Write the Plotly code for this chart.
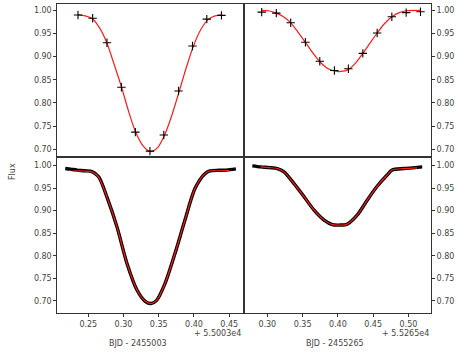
import plotly.graph_objects as go

# ---------------- data ----------------
# Top-left: long-cadence points (BJD - 2455003, offset 5.5003e4)
tl_x = [0.2354, 0.2562, 0.2765, 0.2970, 0.3168, 0.3375, 0.3572, 0.3781, 0.3979, 0.4182, 0.4390]
tl_y = [0.990, 0.983, 0.930, 0.834, 0.737, 0.696, 0.731, 0.826, 0.923, 0.981, 0.989]
tl_mx = [0.2354, 0.2456, 0.2558, 0.2660, 0.2760, 0.2865, 0.2970, 0.3070, 0.3170, 0.3275, 0.3380,
         0.3480, 0.3580, 0.3685, 0.3790, 0.3890, 0.3990, 0.4095, 0.4200, 0.4300, 0.4400]
tl_my = [0.990, 0.988, 0.982, 0.962, 0.931, 0.884, 0.835, 0.783, 0.738, 0.708, 0.695,
         0.703, 0.730, 0.773, 0.825, 0.876, 0.922, 0.958, 0.980, 0.988, 0.990]

# Top-right: long-cadence points (BJD - 2455265, offset 5.5265e4)
tr_x = [0.2921, 0.3128, 0.3332, 0.3540, 0.3744, 0.3951, 0.4149, 0.4354, 0.4557, 0.4765, 0.4968, 0.5171]
tr_y = [0.996, 0.994, 0.973, 0.931, 0.890, 0.870, 0.874, 0.907, 0.951, 0.986, 0.995, 0.997]
tr_mx = [0.2921, 0.3020, 0.3128, 0.3230, 0.3332, 0.3435, 0.3540, 0.3640, 0.3744, 0.3850, 0.3951,
         0.4040, 0.4149, 0.4250, 0.4354, 0.4455, 0.4557, 0.4660, 0.4765, 0.4870, 0.4968, 0.5171]
tr_my = [1.000, 0.999, 0.994, 0.986, 0.973, 0.953, 0.931, 0.909, 0.889, 0.875, 0.869,
         0.868, 0.872, 0.886, 0.907, 0.929, 0.951, 0.971, 0.986, 0.995, 0.999, 1.000]

# Bottom-left: short-cadence data (traced) and model
bl_x = [0.2173, 0.2250, 0.2340, 0.2450, 0.2552, 0.2647, 0.2765, 0.2907, 0.3049, 0.3191, 0.3308,
        0.3390, 0.3470, 0.3588, 0.3730, 0.3872, 0.4014, 0.4156, 0.4227, 0.4350, 0.4460, 0.4595]
bl_y = [0.9934, 0.9920, 0.9900, 0.9885, 0.9865, 0.9750, 0.9300, 0.8640, 0.7830, 0.7240, 0.6990,
        0.6940, 0.7010, 0.7380, 0.8050, 0.8790, 0.9490, 0.9820, 0.9880, 0.9895, 0.9900, 0.9927]
bl_mx = [0.2280, 0.2450, 0.2552, 0.2647, 0.2765, 0.2907, 0.3049, 0.3191, 0.3308, 0.3390,
         0.3470, 0.3588, 0.3730, 0.3872, 0.4014, 0.4156, 0.4227, 0.4350, 0.4500]
bl_my = [0.9880, 0.9880, 0.9860, 0.9740, 0.9300, 0.8640, 0.7830, 0.7240, 0.6990, 0.6940,
         0.7010, 0.7380, 0.8050, 0.8790, 0.9490, 0.9820, 0.9880, 0.9885, 0.9890]

# Bottom-right: short-cadence data (traced) and model
br_x = [0.2788, 0.2907, 0.3030, 0.3142, 0.3237, 0.3379, 0.3521, 0.3663, 0.3805, 0.3922,
        0.4017, 0.4131, 0.4273, 0.4415, 0.4557, 0.4698, 0.4769, 0.4935, 0.5060, 0.5195]
br_y = [0.9993, 0.9970, 0.9955, 0.9934, 0.9860, 0.9600, 0.9310, 0.9010, 0.8790, 0.8690,
        0.8680, 0.8700, 0.8900, 0.9230, 0.9540, 0.9790, 0.9900, 0.9934, 0.9950, 0.9970]
br_mx = [0.2907, 0.3030, 0.3142, 0.3237, 0.3379, 0.3521, 0.3663, 0.3805, 0.3922, 0.4017,
         0.4131, 0.4273, 0.4415, 0.4557, 0.4698, 0.4769, 0.4935, 0.5124]
br_my = [0.9970, 0.9955, 0.9934, 0.9860, 0.9600, 0.9310, 0.9010, 0.8790, 0.8690, 0.8680,
         0.8700, 0.8900, 0.9230, 0.9540, 0.9790, 0.9900, 0.9934, 0.9950]

x_titles = ["BJD - 2455003", "BJD - 2455265"]
offset_labels = ["+ 5.5003e4", "+ 5.5265e4"]
y_title = "Flux"

# ---------------- figure ----------------
W, H = 458, 353
FONT = "DejaVu Sans"
TXT = "#444444"
LINE = "#333333"
RED = "#ff1a1a"

fig = go.Figure()

def model(x, y, xa, ya, width=1.2):
    fig.add_trace(go.Scatter(x=x, y=y, mode="lines", xaxis=xa, yaxis=ya,
                             line=dict(color=RED, width=width, shape="spline", smoothing=0.8),
                             hoverinfo="skip", showlegend=False))

def points(x, y, xa, ya):
    fig.add_trace(go.Scatter(x=x, y=y, mode="markers", xaxis=xa, yaxis=ya,
                             marker=dict(symbol="cross-thin", size=6, color="black",
                                         line=dict(color="black", width=1.1)),
                             showlegend=False))

def band(x, y, xa, ya):
    fig.add_trace(go.Scatter(x=x, y=y, mode="lines", xaxis=xa, yaxis=ya,
                             line=dict(color="black", width=3.4, shape="spline", smoothing=0.8),
                             showlegend=False))

# top-left (x3, y3)
model(tl_mx, tl_my, "x3", "y3")
points(tl_x, tl_y, "x3", "y3")
# top-right (x4, y4)
model(tr_mx, tr_my, "x4", "y4")
points(tr_x, tr_y, "x4", "y4")
# bottom-left (x, y)
band(bl_x, bl_y, "x", "y")
model(bl_mx, bl_my, "x", "y", width=1.2)
# bottom-right (x2, y2)
band(br_x, br_y, "x2", "y2")
model(br_mx, br_my, "x2", "y2", width=1.2)

# domains in paper coords
xl = [57.3 / W, 244.0 / W]
xr = [244.0 / W, 431.0 / W]
yt = [1 - 157.0 / H, 1 - 3.5 / H]
yb = [1 - 313.0 / H, 1 - 157.0 / H]

xrange_l = [0.206, 0.471]
xrange_r = [0.267, 0.532]
yrange_t = [0.6834, 1.0147]
yrange_b = [0.673, 1.019]

tickfont = dict(family=FONT, size=8, color=TXT)
common = dict(showline=True, linecolor=LINE, linewidth=1, mirror=True, showgrid=False,
              zeroline=False, ticks="outside", ticklen=3, tickcolor=LINE, tickwidth=1,
              tickfont=tickfont, automargin=False)

fig.update_layout(
    width=W, height=H, margin=dict(l=0, r=0, t=0, b=0, autoexpand=False),
    paper_bgcolor="white", plot_bgcolor="white", showlegend=False,
    xaxis=dict(domain=xl, range=xrange_l, anchor="y", dtick=0.05, tick0=0.25,
               tickformat=".2f", **common),
    xaxis2=dict(domain=xr, range=xrange_r, anchor="y2", dtick=0.05, tick0=0.30,
                tickformat=".2f", **common),
    xaxis3=dict(domain=xl, range=xrange_l, anchor="y3", showticklabels=False,
                **{**common, "ticks": ""}),
    xaxis4=dict(domain=xr, range=xrange_r, anchor="y4", showticklabels=False,
                **{**common, "ticks": ""}),
    yaxis=dict(domain=yb, range=yrange_b, anchor="x", dtick=0.05, tick0=0.70,
               tickformat=".2f", side="left", **common),
    yaxis2=dict(domain=yb, range=yrange_b, anchor="x2", dtick=0.05, tick0=0.70,
                tickformat=".2f", side="right", **common),
    yaxis3=dict(domain=yt, range=yrange_t, anchor="x3", dtick=0.05, tick0=0.70,
                tickformat=".2f", side="left", **common),
    yaxis4=dict(domain=yt, range=yrange_t, anchor="x4", dtick=0.05, tick0=0.70,
                tickformat=".2f", side="right", **common),
)

ann_font = dict(family=FONT, size=8, color=TXT)
anns = [
    dict(text=x_titles[0], x=137.5 / W, y=1 - 343.0 / H),
    dict(text=x_titles[1], x=335.0 / W, y=1 - 343.0 / H),
    dict(text=offset_labels[0], x=243.0 / W, y=1 - 333.0 / H, xanchor="right"),
    dict(text=offset_labels[1], x=431.0 / W, y=1 - 333.0 / H, xanchor="right"),
    dict(text=y_title, x=13.0 / W, y=1 - 172.0 / H, textangle=-90),
]
for a in anns:
    fig.add_annotation(xref="paper", yref="paper", showarrow=False, font=ann_font,
                       xanchor=a.get("xanchor", "center"), yanchor="middle",
                       **{k: v for k, v in a.items() if k != "xanchor"})

fig.write_html("out.html", config={"displayModeBar": False},
               post_script="document.body.style.margin='0';document.body.style.padding='0';")
